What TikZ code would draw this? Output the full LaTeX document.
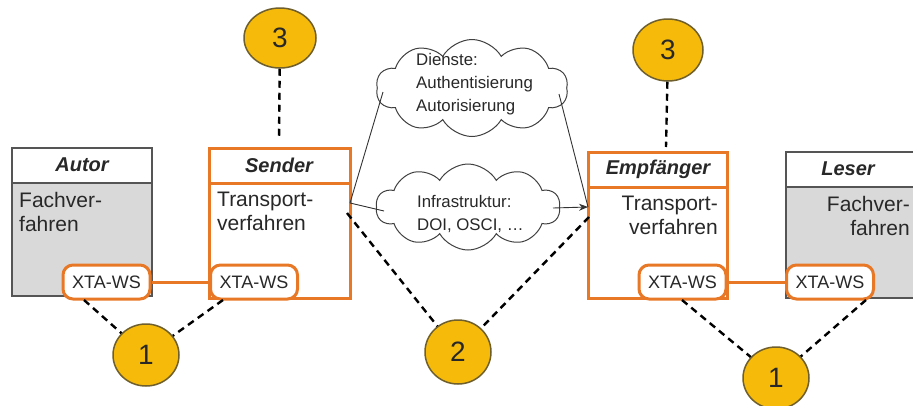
\documentclass[tikz,border=0pt]{standalone}
\usepackage{fontspec}
\setmainfont{Liberation Sans}
\usetikzlibrary{shapes.geometric,shapes.symbols,arrows.meta}
\definecolor{xorange}{RGB}{232,120,38}
\definecolor{xgray}{RGB}{217,217,217}
\definecolor{xframe}{RGB}{85,85,85}
\definecolor{xyellow}{RGB}{246,186,10}
\definecolor{xring}{RGB}{110,95,45}
\definecolor{xtext}{RGB}{40,40,40}
\tikzset{
  plainframe/.style={draw=xframe,line width=2pt},
  orangeframe/.style={draw=xorange,line width=3pt},
  headtext/.style={font=\fontsize{20}{22}\selectfont\bfseries\itshape,text=xtext},
  bodytext/.style={font=\fontsize{21}{24}\selectfont,inner sep=0pt,text=xtext},
  pill/.style={draw=xorange,line width=3pt,fill=white,rounded corners=10pt,
    minimum width=87pt,minimum height=34pt,inner sep=0pt,font=\fontsize{18}{20}\selectfont,text=xtext},
  badge/.style={ellipse,draw=xring,line width=1.5pt,fill=xyellow,inner sep=0pt,
    font=\fontsize{28}{30}\selectfont,text=xtext},
  callout/.style={draw=black,line width=2.4pt,dash pattern=on 7pt off 5pt},
  thin/.style={draw=black!80,line width=0.9pt},
  puff/.style={cloud,cloud puffs=10,cloud puff arc=120,aspect=2.3,draw=black!75,
    line width=1pt,fill=white,inner sep=0pt},
  cloudtext/.style={font=\fontsize{16.8}{23}\selectfont,align=left,inner sep=0pt,anchor=north west,text=xtext},
}
\begin{document}
\begin{tikzpicture}[x=1pt,y=-1pt]
\useasboundingbox (0,0) rectangle (913,405);
\fill[white] (0,0) rectangle (913,405);

% Autor
\fill[xgray] (12,183) rectangle (152,296);
\draw[plainframe] (12,148) rectangle (152,296);
\draw[plainframe] (12,183) -- (152,183);
\node[headtext] (autor) at (82,165) {Autor};
\node[bodytext,anchor=north west,align=left] (autorbody) at (19,192) {Fachver-\\fahren};

% Sender
\draw[orangeframe] (209,148) rectangle (350,298);
\draw[orangeframe] (209,183) -- (350,183);
\node[headtext] (sender) at (279,165) {Sender};
\node[bodytext,anchor=north west,align=left] (senderbody) at (217,192) {Transport-\\verfahren};

% Empfaenger
\draw[orangeframe] (588,152) rectangle (727,298);
\draw[orangeframe] (588,187) -- (727,187);
\node[headtext] (empf) at (658,169) {Empfänger};
\node[bodytext,anchor=north east,align=right] (empfbody) at (718,196) {Transport-\\verfahren};

% Leser
\fill[xgray] (786,187) rectangle (930,298);
\draw[plainframe] (786,152) rectangle (930,298);
\draw[plainframe] (786,187) -- (930,187);
\node[headtext] (leser) at (848,169) {Leser};
\node[bodytext,anchor=north east,align=right] (leserbody) at (910,196) {Fachver-\\fahren};

% XTA-WS interfaces and their links
\node[pill] (wsA) at (106.5,282) {XTA-WS};
\node[pill] (wsS) at (254,282) {XTA-WS};
\node[pill] (wsE) at (682.5,282) {XTA-WS};
\node[pill] (wsL) at (830,282) {XTA-WS};
\draw[xorange,line width=3pt] (wsA) -- (wsS);
\draw[xorange,line width=3pt] (wsE) -- (wsL);

% clouds
\node[puff,minimum width=192pt,minimum height=97pt] (dienste) at (472,88) {};
\node[cloudtext] (diensteT) at (416,53) {Dienste:\\Authentisierung\\Autorisierung};
\node[puff,minimum width=184pt,minimum height=86pt] (infra) at (468,207) {};
\node[cloudtext] (infraT) at (417,195) {Infrastruktur:\\DOI, OSCI, \dots};

% message paths
\coordinate (sout) at (350,203);
\coordinate (ein) at (588,207);
\coordinate (dl) at (383,92);
\coordinate (dr) at (559,94);
\coordinate (il) at (384,211);
\coordinate (ir) at (553,208);
\draw[thin] (sout) -- (dl);
\draw[thin] (dr) -- (ein);
\draw[thin] (sout) -- (il);
\draw[thin,-{Stealth[length=9pt,width=7pt]}] (ir) -- (ein);

% numbered badges
\node[badge,minimum width=72pt,minimum height=60pt] (b3l) at (280,38) {3};
\node[badge,minimum width=70pt,minimum height=62pt] (b3r) at (668,50) {3};
\node[badge,minimum width=66pt,minimum height=62pt] (b1l) at (146,355) {1};
\node[badge,minimum width=66pt,minimum height=64pt] (b2) at (458,352) {2};
\node[badge,minimum width=66pt,minimum height=62pt] (b1r) at (776,378) {1};

% callout lines
\coordinate (t3l) at (279,140);
\coordinate (t3r) at (666,147);
\coordinate (a1) at (84,300);
\coordinate (s1) at (223,300);
\coordinate (s2) at (347,213);
\coordinate (e2) at (589,217);
\coordinate (e1) at (682,300);
\coordinate (l1) at (866,300);
\draw[callout] (b3l) -- (t3l);
\draw[callout] (b3r) -- (t3r);
\draw[callout] (a1) -- (b1l);
\draw[callout] (s1) -- (b1l);
\draw[callout] (s2) -- (b2);
\draw[callout] (e2) -- (b2);
\draw[callout] (e1) -- (b1r);
\draw[callout] (l1) -- (b1r);
\end{tikzpicture}
\end{document}
